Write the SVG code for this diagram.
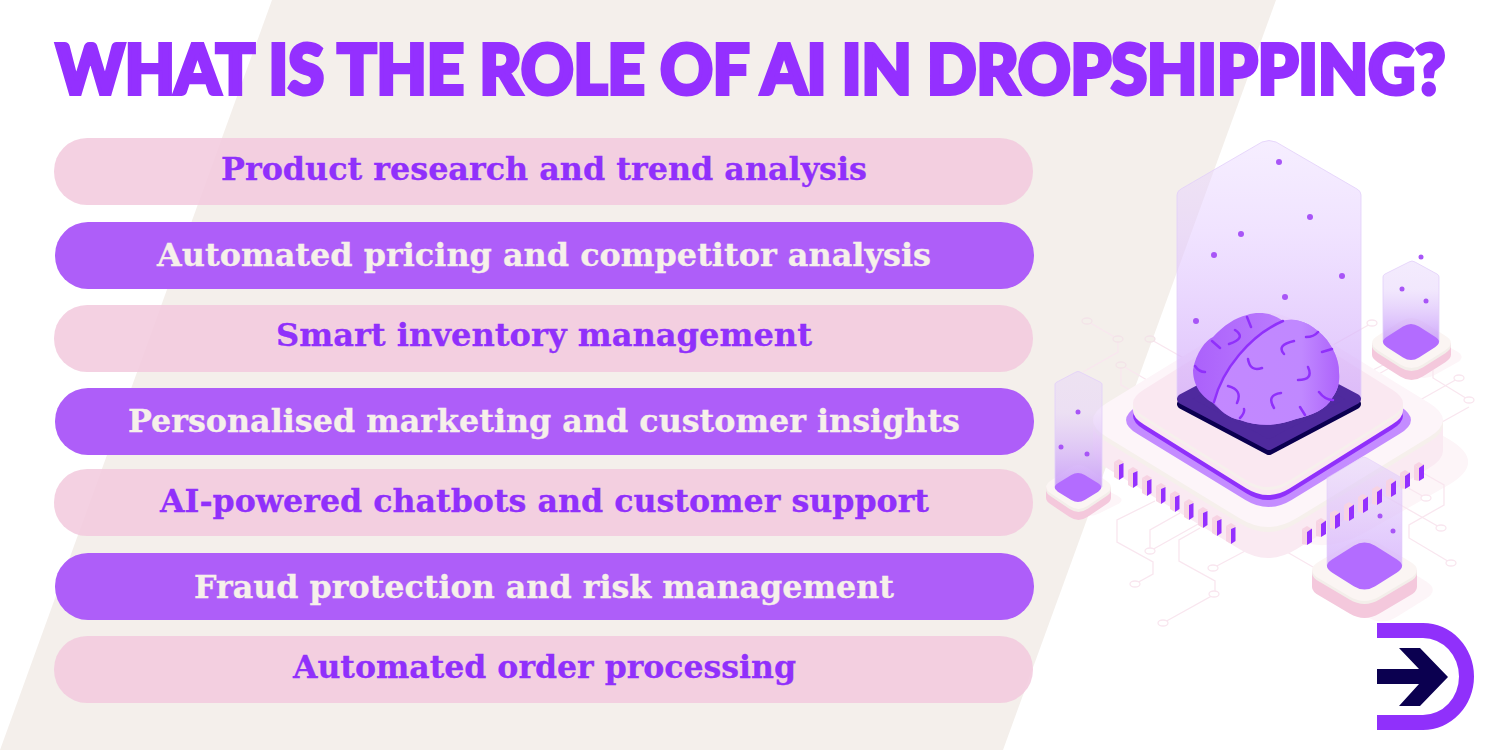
<svg xmlns="http://www.w3.org/2000/svg" width="1500" height="750" viewBox="0 0 1500 750">
<style>
.title{font-family:"Lato","Inter","Liberation Sans",sans-serif;font-weight:900;font-size:68px;fill:#9430ff;stroke:#9430ff;stroke-width:4px;stroke-linejoin:miter}
.lbl{font-family:"DejaVu Serif","Liberation Serif",serif;font-weight:700;font-size:31px;stroke-width:.3px}
.pk{fill:#f3cbde;fill-opacity:.88}
.pu{fill:#ae5ef9}
.tpk{fill:#9030fb;stroke:#9030fb}
.tlt{fill:#f6f0ea;stroke:#f6f0ea}
.tr{fill:none;stroke:#f9e6ef;stroke-width:1.3}
.trc{fill:#fff;stroke:#f9e6ef;stroke-width:1.3}
.trb{fill:#f4efeb;stroke:#f3e3e8;stroke-width:1.3}
.dot{fill:#a855f7}
.rj{stroke-linejoin:round}
.pinp{fill:#f7d3e3}
.pinq{fill:#9430ff}
.side{fill:#f4c8dc}
.edge{fill:#f3eeea}
.top{fill:#fbf5f3}
.pad{fill:#b36cff}
.shade{fill:#fdf5f8}
</style>
<defs>
<path id="d" d="M-75,-25 L-25,-75 Q0,-100 25,-75 L75,-25 Q100,0 75,25 L25,75 Q0,100 -25,75 L-75,25 Q-100,0 -75,-25Z"/>
<path id="d2" d="M-85,-15 L-15,-85 Q0,-100 15,-85 L85,-15 Q100,0 85,15 L15,85 Q0,100 -15,85 L-85,15 Q-100,0 -85,-15Z"/>
<linearGradient id="gBig" x1="0" y1="0" x2="0" y2="1"><stop offset="0" stop-color="#e9d6ff" stop-opacity=".42"/><stop offset=".35" stop-color="#e4ccff" stop-opacity=".55"/><stop offset="1" stop-color="#d3acfb" stop-opacity=".75"/></linearGradient>
<linearGradient id="gSm" x1="0" y1="0" x2="0" y2="1"><stop offset="0" stop-color="#e4d0fb" stop-opacity=".42"/><stop offset=".35" stop-color="#e4d0fb" stop-opacity=".5"/><stop offset="1" stop-color="#c596fa" stop-opacity=".85"/></linearGradient>
<linearGradient id="gFr" x1="0" y1="0" x2="0" y2="1"><stop offset="0" stop-color="#e2cffb" stop-opacity=".5"/><stop offset="1" stop-color="#d8b6fc" stop-opacity=".85"/></linearGradient>
<linearGradient id="gBrainL" x1="0" y1="0" x2="1" y2="0"><stop offset="0" stop-color="#ab61fb"/><stop offset="1" stop-color="#c48cff"/></linearGradient>
<linearGradient id="gBrainR" x1="0" y1="0" x2="1" y2="0"><stop offset="0" stop-color="#c388ff"/><stop offset=".7" stop-color="#c088ff"/><stop offset="1" stop-color="#ad63fb"/></linearGradient>
</defs>
<rect width="1500" height="750" fill="#fff"/>
<polygon id="backdrop" points="272,0 1276,0 1003,750 0,750" fill="#f4efeb"/>

<g id="title"><text class="title" transform="translate(56,94) scale(.955,1)" x="0" y="0">WHAT IS THE ROLE OF AI IN DROPSHIPPING?</text></g>

<g id="item-1"><rect class="pk" x="54" y="138" width="979" height="67" rx="33"/><text class="lbl tpk" x="221" y="180" textLength="646" lengthAdjust="spacingAndGlyphs">Product research and trend analysis</text></g>
<g id="item-2"><rect class="pu" x="55" y="222" width="979" height="67" rx="33"/><text class="lbl tlt" x="157" y="266" textLength="774" lengthAdjust="spacingAndGlyphs">Automated pricing and competitor analysis</text></g>
<g id="item-3"><rect class="pk" x="54" y="305" width="979" height="67" rx="33"/><text class="lbl tpk" x="276" y="346" textLength="536" lengthAdjust="spacingAndGlyphs">Smart inventory management</text></g>
<g id="item-4"><rect class="pu" x="55" y="388" width="979" height="67" rx="33"/><text class="lbl tlt" x="128" y="432" textLength="832" lengthAdjust="spacingAndGlyphs">Personalised marketing and customer insights</text></g>
<g id="item-5"><rect class="pk" x="54" y="469" width="979" height="67" rx="33"/><text class="lbl tpk" x="160" y="512" textLength="769" lengthAdjust="spacingAndGlyphs">AI-powered chatbots and customer support</text></g>
<g id="item-6"><rect class="pu" x="55" y="553" width="979" height="67" rx="33"/><text class="lbl tlt" x="194" y="598" textLength="700" lengthAdjust="spacingAndGlyphs">Fraud protection and risk management</text></g>
<g id="item-7"><rect class="pk" x="54" y="636" width="979" height="67" rx="33"/><text class="lbl tpk" x="293" y="678" textLength="503" lengthAdjust="spacingAndGlyphs">Automated order processing</text></g>

<g id="shadows">
<use href="#d" class="shade" transform="translate(1322,462) scale(1.67,.95)"/>
<use href="#d" class="shade" transform="translate(1382,590) scale(.58,.36)"/>
<use href="#d" class="shade" transform="translate(1424,357) scale(.43,.24)"/>
<use href="#d" class="shade" transform="translate(1090,500) scale(.36,.18)"/>
</g>

<g id="connectors">
<path class="tr" d="M1135,584 L1153,574 V562 L1117,542 V520 L1155,501"/>
<path class="tr" d="M1150,551 V530 L1180,513 M1150,551 L1200,523"/>
<path class="tr" d="M1200,528 L1179,540 V561 L1215,581 V594 L1163,623"/>
<path class="tr" d="M1213,568 L1247,550"/>
<path class="tr" d="M1287,552 L1313,567"/>
<path class="tr" d="M1451,563 L1409,538 V525 L1444,505 V485 L1423,473"/>
<path class="tr" d="M1441,528 L1383,495"/>
<path class="tr" d="M1426,498 L1403,485"/>
<path class="tr" d="M1469,400 L1433,378 V370 M1459,378 L1420,400"/>
<path class="tr" d="M1469,407 L1433,427"/>
<path class="tr" d="M1087,321 L1118,339 V352 L1083,372"/>
<path class="tr" d="M1150,339 L1187,360"/>
<path class="tr" d="M1121,365 V385 L1145,398 M1121,365 L1147,380"/>
<path class="tr" d="M1372,323 L1333,345"/>
<path class="tr" d="M1373,370 L1387,363 M1377,375 L1391,367"/>
<g>
<ellipse class="trc" cx="1135" cy="584" rx="5" ry="3"/><ellipse class="trc" cx="1150" cy="551" rx="5" ry="3"/><ellipse class="trc" cx="1214" cy="594" rx="5" ry="3"/><ellipse class="trc" cx="1163" cy="623" rx="5" ry="3"/><ellipse class="trc" cx="1213" cy="568" rx="5" ry="3"/><ellipse class="trc" cx="1451" cy="563" rx="5" ry="3"/><ellipse class="trc" cx="1441" cy="528" rx="5" ry="3"/><ellipse class="trc" cx="1426" cy="498" rx="5" ry="3"/><ellipse class="trc" cx="1469" cy="400" rx="5" ry="3"/><ellipse class="trc" cx="1459" cy="378" rx="5" ry="3"/><ellipse class="trb" cx="1087" cy="321" rx="5" ry="3"/><ellipse class="trb" cx="1118" cy="339" rx="5" ry="3"/><ellipse class="trb" cx="1150" cy="339" rx="5" ry="3"/><ellipse class="trb" cx="1121" cy="365" rx="5" ry="3"/><ellipse class="trc" cx="1372" cy="323" rx="5" ry="3"/>
</g>
</g>

<g id="chip">
<rect x="1093" y="420" width="350" height="31" fill="#faeaf2"/>
<use href="#d2" fill="#faeaf2" transform="translate(1268,451) scale(1.892,1.157)"/>
<rect x="1093" y="420" width="350" height="5" fill="#f6f0ec"/>
<use href="#d2" fill="#f6f0ec" transform="translate(1268,425) scale(1.892,1.157)"/>
<use href="#d2" fill="#fdf5f9" transform="translate(1268,420) scale(1.892,1.157)"/>
<use href="#d2" fill="#c48cff" transform="translate(1268.5,420) scale(1.54,.94)"/>
<use href="#d2" fill="#9030fb" transform="translate(1268,416) scale(1.459,.908)"/>
<rect x="1133" y="403" width="270" height="8" fill="#fae8f1"/>
<use href="#d2" fill="#fae8f1" transform="translate(1268,411) scale(1.459,.908)"/>
<use href="#d2" fill="#f6f0ec" transform="translate(1268,406) scale(1.459,.908)"/>
<use href="#d2" fill="#fae8f1" transform="translate(1268,403) scale(1.459,.908)"/>
</g>

<g id="pins-left">
<g id="pl"><polygon class="pinp" points="1114,462 1119,459 1124,462 1119,465"/><polygon class="pinp" points="1114,462 1119,465 1119,480 1114,477"/><polygon class="pinq" points="1119,465 1123.5,463 1123.5,477 1119,480"/></g>
<use href="#pl" x="14" y="8"/><use href="#pl" x="28" y="16"/><use href="#pl" x="42" y="24"/><use href="#pl" x="56" y="32"/><use href="#pl" x="70" y="40"/><use href="#pl" x="84" y="48"/><use href="#pl" x="98" y="56"/><use href="#pl" x="112" y="64"/>
</g>

<g id="tower-main">
<path d="M1177,399 V195 Q1177,191 1181,189 L1262,142 Q1269,139 1276,142 L1357,189 Q1361,191 1361,195 V399 Z" fill="url(#gBig)" stroke="#e2cffa" stroke-width=".8"/>
<polygon class="rj" points="1182,404 1269,358 1356,404 1269,450" fill="#0b0050" stroke="#0b0050" stroke-width="10"/>
<polygon class="rj" points="1182,399 1269,353 1356,399 1269,445" fill="#4f2a9e" stroke="#4f2a9e" stroke-width="10"/>
<g class="dot"><circle cx="1279" cy="162" r="3"/><circle cx="1310" cy="217" r="3"/><circle cx="1241" cy="234" r="3"/><circle cx="1214" cy="255" r="3"/><circle cx="1342" cy="276" r="3"/><circle cx="1285" cy="297" r="3"/><circle cx="1196" cy="321" r="3"/></g>
</g>

<g id="brain">
<path d="M1193,370 C1196,352 1206,340 1213,337 C1224,325 1235,318 1247,315 C1258,311 1274,313 1283,321 C1295,317 1312,322 1327,340 C1334,350 1339,360 1339,372 C1340,382 1338,390 1332,398 C1326,410 1312,415 1296,419 C1280,425 1262,428 1240,420 C1228,418 1220,410 1213,403 C1204,398 1193,388 1193,370 Z" fill="url(#gBrainL)"/>
<path d="M1283,321 C1295,317 1312,322 1327,340 C1334,350 1339,360 1339,372 C1340,382 1338,390 1332,398 C1326,410 1312,415 1296,419 C1280,425 1262,428 1240,420 C1228,418 1220,410 1214,402 C1216,385 1235,345 1283,321 Z" fill="url(#gBrainR)"/>
<path d="M1283,321 C1250,335 1222,370 1214,402 M1247,317 L1251,327 M1235,330 Q1247,338 1229,344 M1212,341 L1220,348 M1195,366 Q1199,372 1205,372 M1318,332 Q1314,337 1306,337 M1332,349 L1322,352 M1294,341 Q1276,345 1284,354 M1248,359 Q1250,372 1262,368 M1308,367 Q1314,380 1298,380 M1228,386 Q1243,390 1237,403 M1281,393 Q1266,395 1274,408 M1244,409 Q1245,413 1240,418 M1300,407 L1305,415 M1319,392 Q1325,400 1333,400" fill="none" stroke="#9030fb" stroke-width="2.5" stroke-linecap="round"/>
</g>

<g id="tower-right">
<rect class="side" x="1372" y="343" width="79" height="12"/>
<use href="#d" class="side" transform="translate(1411.5,355) scale(.451,.286)"/>
<use href="#d" class="edge" transform="translate(1411.5,346) scale(.451,.286)"/>
<use href="#d" class="top" transform="translate(1411.5,343) scale(.451,.286)"/>
<path d="M1383,342 V277 Q1383,275 1385,274 L1409,262 Q1412,260 1415,262 L1437,274 Q1439,275 1439,277 V342 Z" fill="url(#gSm)" stroke="#e2cffa" stroke-width=".8"/>
<use href="#d" class="pad" transform="translate(1411,342) scale(.32,.206)"/>
<g class="dot"><circle cx="1421" cy="257" r="2.5"/><circle cx="1402" cy="289" r="2.5"/><circle cx="1426" cy="301" r="2.5"/></g>
</g>

<g id="tower-left">
<rect class="side" x="1046" y="487" width="65" height="11"/>
<use href="#d" class="side" transform="translate(1078.5,498) scale(.371,.251)"/>
<use href="#d" class="edge" transform="translate(1078.5,490) scale(.371,.251)"/>
<use href="#d" class="top" transform="translate(1078.5,487) scale(.371,.251)"/>
<path d="M1055,487 V384 Q1055,383 1057,382 L1076,372 Q1078,371 1080,372 L1100,382 Q1102,383 1102,384 V487 Z" fill="url(#gSm)" stroke="#e2cffa" stroke-width=".8"/>
<use href="#d" class="pad" transform="translate(1078,487.5) scale(.269,.166)"/>
<g class="dot"><circle cx="1078" cy="412" r="2.5"/><circle cx="1061" cy="447" r="2.5"/><circle cx="1087" cy="454" r="2.5"/></g>
</g>

<g id="tower-front">
<rect class="side" x="1312" y="570" width="105" height="17"/>
<use href="#d" class="side" transform="translate(1364.5,587) scale(.6,.354)"/>
<use href="#d" class="edge" transform="translate(1364.5,573) scale(.6,.354)"/>
<use href="#d" class="top" transform="translate(1364.5,570) scale(.6,.354)"/>
<path d="M1327,566 V478 L1361,458 Q1364,456 1367,458 L1402,478 V566 Z" fill="url(#gFr)" stroke="#e2cffa" stroke-width=".6"/>
<use href="#d" class="pad" transform="translate(1364.5,566) scale(.429,.269)"/>
<g class="dot"><circle cx="1380" cy="516" r="2.5"/><circle cx="1393" cy="531" r="2.5"/></g>
</g>

<g id="pins-right">
<g id="pr"><polygon class="pinp" points="1302,529 1307,526 1312,529 1307,532"/><polygon class="pinp" points="1302,529 1307,532 1307,545 1302,544"/><polygon class="pinq" points="1307,532 1312,528.5 1312,542 1307,545"/></g>
<use href="#pr" x="14" y="-8"/><use href="#pr" x="28" y="-16"/><use href="#pr" x="42" y="-24"/><use href="#pr" x="56" y="-32"/><use href="#pr" x="70" y="-40"/><use href="#pr" x="84" y="-48"/><use href="#pr" x="98" y="-56"/><use href="#pr" x="112" y="-64"/>
</g>

<g id="logo">
<path d="M1377,623 H1423 A51,53.5 0 0 1 1423,730 H1377 V715 H1423 A36,38.5 0 0 0 1423,638 H1377 Z" fill="#9030fb"/>
<polygon points="1399,648 1420,648 1448,677 1420,706 1399,706 1419,684 1377,684 1377,669 1419,669" fill="#0b0050"/>
</g>
</svg>
